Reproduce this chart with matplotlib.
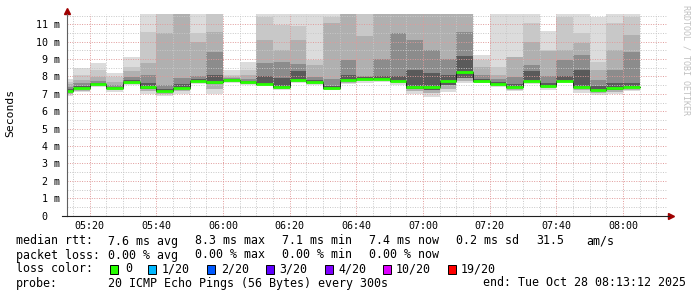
import numpy as np
import matplotlib
matplotlib.use("Agg")
import matplotlib.pyplot as plt
from matplotlib.patches import Rectangle
from matplotlib.lines import Line2D

# 5 minute bins, start time in minutes after midnight (05:10 ... 08:00)
bin_start = [310 + 5 * i for i in range(35)]
t_from, t_to = 5 * 60 + 13.2, 8 * 60 + 13.2   # 05:13:12 -> 08:13:12

# median rtt per bin (ms)
median = [7.17, 7.32, 7.57, 7.32, 7.68, 7.37, 7.17, 7.32, 7.74, 7.68,
          7.80, 7.68, 7.57, 7.41, 7.80, 7.68, 7.32, 7.80, 7.88, 7.86,
          7.76, 7.41, 7.37, 7.74, 8.27, 7.74, 7.57, 7.41, 7.76, 7.45,
          7.74, 7.39, 7.22, 7.32, 7.41]

# smoke: upper edges of the grey layers, lightest (outer) to darkest (inner)
# 12 = above the top of the graph
up1 = [7.85, 8.47, 8.76, 8.18, 9.10, 12, 12, 12, 12, 12,
       8.37, 8.81, 12, 12, 12, 12, 12, 12, 12, 12,
       12, 12, 12, 12, 12, 9.24, 12, 12, 12, 10.6,
       12, 12, 11.4, 12, 12]
up2 = [7.70, 8.10, 8.37, 7.95, 8.53, 10.57, 12, 12, 10.5, 12,
       8.09, 8.37, 11.4, 10.96, 10.9, 8.95, 11.4, 12, 12, 12,
       12, 12, 12, 12, 12, 8.95, 8.57, 9.14, 11.06, 9.52,
       11.4, 10.5, 8.86, 11.06, 11.4]
up3 = [7.55, 7.80, 7.95, 7.66, 8.30, 8.76, 10.5, 12, 10.0, 10.58,
       7.95, 8.09, 10.1, 9.52, 10.1, 8.66, 11.1, 12, 10.3, 12,
       12, 12, 12, 12, 12, 8.52, 8.09, 9.10, 10.0, 9.45,
       9.52, 9.95, 8.37, 9.52, 10.4]
up4 = [7.42, 7.60, 7.72, 7.50, 7.95, 8.10, 7.50, 7.90, 8.05, 9.43,
       7.90, 7.85, 8.80, 8.81, 8.70, 7.95, 7.85, 8.95, 8.05, 9.00,
       10.5, 10.1, 9.50, 9.00, 10.57, 8.09, 7.85, 7.95, 8.66, 8.00,
       8.95, 9.24, 7.80, 8.37, 9.40]
up5 = [7.30, 7.45, 7.65, 7.40, 7.80, 7.60, 7.30, 7.55, 7.85, 8.10,
       7.85, 7.75, 8.00, 7.90, 8.30, 7.80, 7.45, 8.10, 7.95, 8.05,
       8.00, 8.37, 8.20, 8.10, 9.20, 7.85, 7.70, 7.55, 8.30, 7.60,
       8.00, 8.37, 7.45, 7.60, 7.60]
# smoke: lower edges (outer = fastest ping)
lo_outer = [6.90, 7.10, 7.40, 7.10, 7.50, 7.00, 6.90, 7.00, 7.55, 7.00,
            7.60, 7.50, 7.45, 7.20, 7.60, 7.50, 7.20, 7.55, 7.65, 7.70,
            7.50, 7.00, 6.85, 7.10, 7.65, 7.60, 7.40, 7.15, 7.55, 7.25,
            7.60, 7.05, 6.95, 7.00, 7.15]
lo_mid = [7.00, 7.18, 7.47, 7.20, 7.58, 7.15, 7.00, 7.15, 7.62, 7.30,
          7.68, 7.58, 7.50, 7.28, 7.68, 7.58, 7.25, 7.65, 7.75, 7.78,
          7.62, 7.15, 7.05, 7.30, 7.75, 7.65, 7.47, 7.25, 7.65, 7.35,
          7.66, 7.20, 7.05, 7.12, 7.25]
lo_inner = [7.10, 7.26, 7.53, 7.27, 7.64, 7.28, 7.10, 7.26, 7.70, 7.55,
            7.75, 7.64, 7.54, 7.35, 7.75, 7.64, 7.29, 7.74, 7.83, 7.83,
            7.70, 7.30, 7.20, 7.50, 7.90, 7.70, 7.53, 7.33, 7.72, 7.41,
            7.70, 7.32, 7.15, 7.25, 7.35]

x_ticks = [320, 340, 360, 380, 400, 420, 440, 460, 480]
x_labels = ["05:20", "05:40", "06:00", "06:20", "06:40", "07:00", "07:20", "07:40", "08:00"]
y_ticks = list(range(12))
y_labels = ["0  "] + [f"{v} m" for v in y_ticks[1:]]

loss_names = ["0", "1/20", "2/20", "3/20", "4/20", "10/20", "19/20"]
loss_colors = ["#26ff00", "#00b8ff", "#0059ff", "#5e00ff", "#7e00ff", "#dd00ff", "#ff0000"]

W, H = 697, 297
MONO = "DejaVu Sans Mono"
plt.rcParams["font.family"] = MONO

fig = plt.figure(figsize=(W / 100, H / 100), dpi=100)
ax_left, ax_right, ax_bot, ax_top = 67, 667, 215.7, 14.2
ax = fig.add_axes([ax_left / W, 1 - ax_bot / H, (ax_right - ax_left) / W, (ax_bot - ax_top) / H])

# smoke layers
layers = [(up1, lo_outer, "#dcdcdc"), (up2, lo_mid, "#c8c8c8"), (up3, lo_mid, "#b0b0b0"),
          (up4, lo_inner, "#8c8c8c"), (up5, lo_inner, "#5a5a5a")]
for top, bot, col in layers:
    ax.bar(bin_start, np.array(top) - np.array(bot), bottom=bot, width=5, align="edge",
           color=col, linewidth=0, antialiased=False, zorder=1)

# median line
edges = bin_start + [bin_start[-1] + 5]
ax.step(edges, median + [median[-1]], where="post", color="#202020", lw=0.7, zorder=3)
ax.hlines(median, bin_start, np.array(bin_start) + 5, color=loss_colors[0], lw=2.0, zorder=4)

ax.set_xlim(t_from, t_to)
ax.set_ylim(0, 11.58)
ax.set_xticks(x_ticks)
ax.set_xticklabels(x_labels)
ax.set_xticks(np.arange(315, 495, 5), minor=True)
ax.set_yticks(y_ticks)
ax.set_yticklabels(y_labels)
ax.set_yticks(np.arange(0.5, 11.6, 1.0), minor=True)
ax.tick_params(which="both", length=0, labelsize=7.2, colors="#000000")
ax.tick_params(axis="y", pad=5)
ax.tick_params(axis="x", pad=4)

ax.set_axisbelow(False)
ax.grid(which="minor", color="#c8c8c8", lw=0.7, linestyle=(0, (1, 1.5)))
ax.grid(which="major", color="#e09a9a", lw=0.7, linestyle=(0, (1, 1.5)))

for s in ["top", "right"]:
    ax.spines[s].set_visible(False)
ax.spines["left"].set_color("#606060")
ax.spines["left"].set_linewidth(0.8)
ax.spines["bottom"].set_color("#202020")
ax.spines["bottom"].set_linewidth(0.8)
ax.spines["left"].set_zorder(5)
ax.spines["bottom"].set_zorder(5)

# arrows at the end of the axes
ax.plot([0], [1.016], marker="^", ms=4, color="#a00000", transform=ax.transAxes, clip_on=False)
ax.plot([1.006], [0], marker=">", ms=4, color="#a00000", transform=ax.transAxes, clip_on=False)
fig.add_artist(Line2D([62 / W, ax_left / W], [1 - ax_bot / H] * 2, color="#202020", lw=0.8))
fig.add_artist(Line2D([ax_right / W, 669 / W], [1 - ax_bot / H] * 2, color="#202020", lw=0.8))

fig.text(10 / W, 1 - 113 / H, "Seconds", rotation=90, ha="center", va="center", fontsize=8.2)
fig.text(686 / W, 1 - 5 / H, "RRDTOOL / TOBI OETIKER", rotation=270, ha="center", va="top",
         fontsize=6, color="#c0c0c0")


def put(x, y, s, **kw):
    fig.text(x / W, 1 - y / H, s, ha="left", va="center", fontsize=8.4, **kw)


put(16, 241, "median rtt:")
for x, s in zip([108, 195, 282, 369, 456, 536, 586],
                ["7.6 ms avg", "8.3 ms max", "7.1 ms min", "7.4 ms now", "0.2 ms sd", "31.5", "am/s"]):
    put(x, 241, s)
put(16, 255, "packet loss:")
for x, s in zip([108, 195, 282, 369], ["0.00 % avg", "0.00 % max", "0.00 % min", "0.00 % now"]):
    put(x, 255, s)
put(16, 269, "loss color:")
box_x = [110, 147.5, 207, 266, 324.5, 383, 447.5]
text_x = [125, 162, 221, 279.5, 338, 395.5, 460.5]
for bx, tx, name, col in zip(box_x, text_x, loss_names, loss_colors):
    fig.add_artist(Rectangle((bx / W, 1 - 273.5 / H), 8 / W, 9 / H, facecolor=col,
                             edgecolor="#000000", lw=0.7, transform=fig.transFigure))
    put(tx, 269, name)
put(16, 283, "probe:")
put(108, 283, "20 ICMP Echo Pings (56 Bytes) every 300s")
put(483, 283, "end: Tue Oct 28 08:13:12 2025")

fig.savefig("out.png", dpi=100)
